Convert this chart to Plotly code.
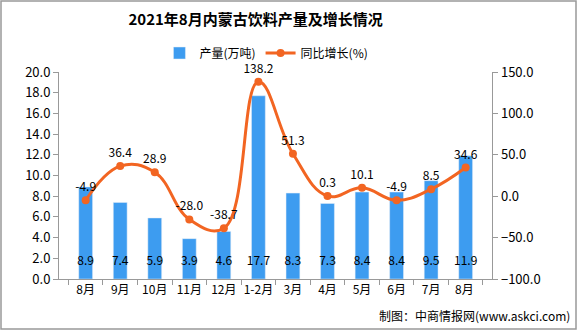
import plotly.graph_objects as go
from plotly.subplots import make_subplots

categories = ["8月", "9月", "10月", "11月", "12月", "1-2月", "3月", "4月", "5月", "6月", "7月", "8月 "]
production = [8.9, 7.4, 5.9, 3.9, 4.6, 17.7, 8.3, 7.3, 8.4, 8.4, 9.5, 11.9]
growth = [-4.9, 36.4, 28.9, -28.0, -38.7, 138.2, 51.3, 0.3, 10.1, -4.9, 8.5, 34.6]
left_ticks = [0, 2, 4, 6, 8, 10, 12, 14, 16, 18, 20]
right_ticks = [-100, -50, 0, 50, 100, 150]

W, H = 577, 330
ML, MR, MT, MB = 59, 57, 72, 51
PW, PH = W - ML - MR, H - MT - MB

FONT = "SimSun, 'Noto Sans CJK SC', sans-serif"
BLUE = "#3d9cf0"
ORANGE = "#f26522"

fig = make_subplots(specs=[[{"secondary_y": True}]])
fig.add_trace(go.Bar(x=categories, y=production, name="产量(万吨)", marker_color=BLUE,
                     width=0.4, showlegend=True), secondary_y=False)
fig.add_trace(go.Scatter(x=categories, y=[1.6] * len(categories), mode="text",
                         text=[f"{v:.1f}" for v in production], textposition="middle center",
                         textfont=dict(size=12, color="#000", family=FONT),
                         showlegend=False, hoverinfo="skip", cliponaxis=False), secondary_y=False)
fig.add_trace(go.Scatter(x=categories, y=growth, name="同比增长(%)", mode="lines+markers+text",
                         line=dict(color=ORANGE, width=3, shape="spline", smoothing=1.2),
                         marker=dict(color=ORANGE, size=8), cliponaxis=False,
                         text=[f"{v:.1f}" for v in growth], textposition="top center",
                         textfont=dict(size=12, color="#000", family=FONT)), secondary_y=True)

fig.update_layout(
    width=W, height=H, margin=dict(l=ML, r=MR, t=MT, b=MB),
    paper_bgcolor="white", plot_bgcolor="white",
    font=dict(family=FONT, size=12, color="#000"),
    title=dict(text="<b>2021年8月内蒙古饮料产量及增长情况</b>", x=0.443, xanchor="center",
               y=1 - 20 / H, yanchor="middle", font=dict(size=15, color="#000")),
    legend=dict(orientation="h", x=0.45, xanchor="center", y=1 + 19 / PH, yanchor="middle",
                font=dict(size=12), itemwidth=30, bgcolor="rgba(0,0,0,0)"),
    bargap=0.6,
    shapes=[dict(type="rect", xref="paper", yref="paper",
                 x0=-(ML - 1) / PW, x1=1 + (MR - 1) / PW,
                 y0=-(MB - 1) / PH, y1=1 + (MT - 1) / PH,
                 line=dict(color="#999", width=1.5))],
    annotations=[dict(text="制图：中商情报网(www.askci.com)", xref="paper", yref="paper",
                      x=1 + 52 / PW, xanchor="right", y=-36 / PH, yanchor="middle",
                      showarrow=False, font=dict(size=12, color="#000"))],
)
fig.update_xaxes(showline=True, linecolor="#999", ticks="outside", tickcolor="#999",
                 ticklen=5, tickson="boundaries", showgrid=False, tickangle=0,
                 tickfont=dict(size=12, family=FONT))
fig.update_yaxes(range=[0, 20], tickvals=left_ticks, tickformat=".1f", showline=True,
                 linecolor="#999", ticks="outside", tickcolor="#999", ticklen=5,
                 showgrid=False, zeroline=False, tickfont=dict(size=13), secondary_y=False)
fig.update_yaxes(range=[-100, 150], tickvals=right_ticks, tickformat=".1f", showline=True,
                 linecolor="#999", ticks="outside", tickcolor="#999", ticklen=5,
                 showgrid=False, zeroline=False, tickfont=dict(size=13), secondary_y=True)

fig.write_html("out.html")
